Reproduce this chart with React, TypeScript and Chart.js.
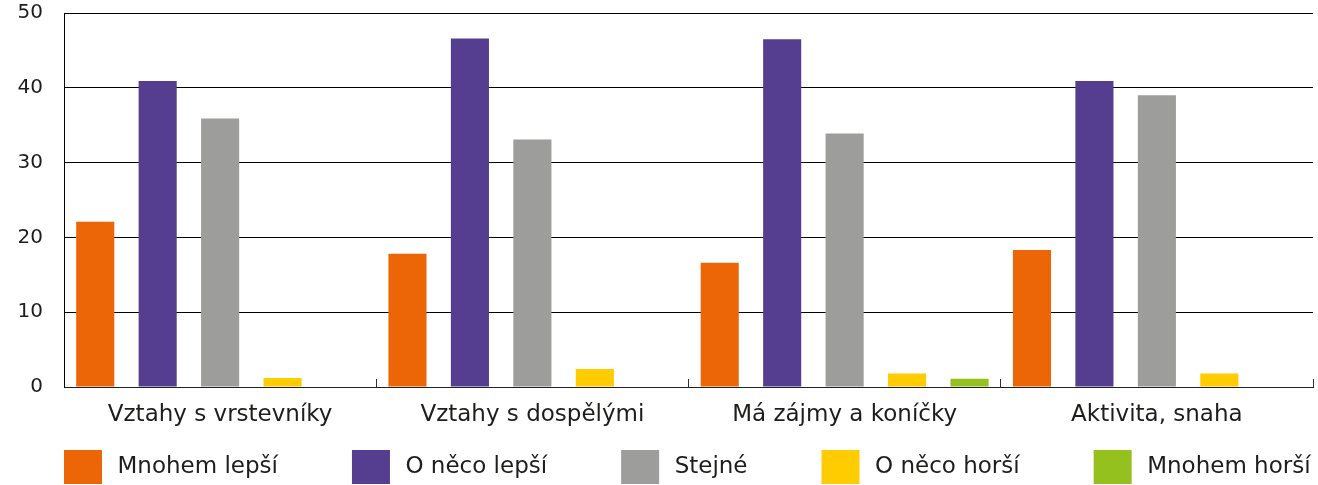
import { useEffect, useRef } from 'react';
import { Chart, registerables } from 'chart.js';

Chart.register(...registerables);

const categories = ['Vztahy s vrstevníky', 'Vztahy s dospělými', 'Má zájmy a koníčky', 'Aktivita, snaha'];
const seriesNames = ['Mnohem lepší', 'O něco lepší', 'Stejné', 'O něco horší', 'Mnohem horší'];
const mnohemLepsi = [22.1, 17.8, 16.6, 18.3];
const oNecoLepsi = [40.9, 46.6, 46.5, 40.9];
const stejne = [35.9, 33.1, 33.9, 39.0];
const oNecoHorsi = [1.2, 2.4, 1.8, 1.8];
const mnohemHorsi = [0, 0, 1.1, 0];
const seriesColors = ['#EC6608', '#553E8F', '#9D9D9C', '#FFCC00', '#95C11F'];
const yMin = 0;
const yMax = 50;
const yStep = 10;

const FONT = '"DejaVu Sans", sans-serif';
const TEXT = '#1d1d1b';

const LEGEND_HEIGHT = 98;
const LEGEND_SHIFT_UP = 11;
const LEGEND_GAP = 70;

// Keep the legend on one row with wide gaps and pull it close to the axis.
const legendLayoutPlugin = {
  id: 'legendLayout',
  beforeUpdate(chart: any) {
    const lg = chart.legend;
    if (!lg || lg.__patched) return;
    lg.__patched = true;
    const fit = lg.fit.bind(lg);
    lg.fit = function () {
      const mw = this.maxWidth;
      this.maxWidth = 100000;
      fit();
      this.maxWidth = mw;
      this.width = mw;
      this.height = LEGEND_HEIGHT;
    };
    const draw = lg._draw.bind(lg);
    lg._draw = function () {
      const top = this.top;
      const right = this.right;
      this.top = top - LEGEND_SHIFT_UP;
      this.right = 100000;
      draw();
      this.top = top;
      this.right = right;
    };
  },
};

export default function App() {
  const ref = useRef<HTMLCanvasElement>(null);

  useEffect(() => {
    const values = [mnohemLepsi, oNecoLepsi, stejne, oNecoHorsi, mnohemHorsi];
    const chart = new Chart(ref.current!, {
      type: 'bar',
      data: {
        labels: categories,
        datasets: values.map((v, i) => ({
          label: seriesNames[i],
          data: v,
          backgroundColor: seriesColors[i],
          borderWidth: 0,
          categoryPercentage: 1.0,
          barPercentage: 0.61,
        })),
      },
      plugins: [legendLayoutPlugin],
      options: {
        animation: false,
        responsive: false,
        devicePixelRatio: 1,
        layout: { padding: { top: 13, right: 5, left: -10, bottom: 0 } },
        plugins: {
          tooltip: { enabled: false },
          legend: {
            position: 'bottom',
            align: 'start',
            labels: {
              boxWidth: 46,
              boxHeight: 42,
              padding: LEGEND_GAP,
              color: TEXT,
              font: { family: FONT, size: 23 },
              generateLabels: (chart: any) =>
                chart.data.datasets.map((ds: any, i: number) => ({
                  text: ds.label,
                  fillStyle: ds.backgroundColor,
                  strokeStyle: '#ffffff',
                  lineWidth: 8,
                  fontColor: TEXT,
                  hidden: false,
                  datasetIndex: i,
                })),
            },
          },
        },
        scales: {
          x: {
            afterFit: (s: any) => { s.height = 0; },
            grid: {
              display: true,
              drawOnChartArea: false,
              drawTicks: true,
              tickLength: -8,
              color: '#333',
              lineWidth: 1,
            },
            border: { display: true, color: '#222', width: 1 },
            ticks: {
              color: TEXT,
              font: { family: FONT, size: 23 },
              mirror: true,
              padding: -42,
              maxRotation: 0,
              autoSkip: false,
            },
          },
          y: {
            min: yMin,
            max: yMax,
            afterFit: (s: any) => { s.width = 74; s.paddingTop = 0; s.paddingBottom = 0; },
            ticks: {
              stepSize: yStep,
              color: TEXT,
              font: { family: FONT, size: 20 },
              padding: 21,
            },
            grid: { color: '#000', lineWidth: 1, drawTicks: false },
            border: { display: true, color: '#000', width: 1 },
          },
        },
      },
    });
    return () => chart.destroy();
  }, []);

  return (
    <div style={{ position: 'absolute', left: 0, top: 0, width: 1318, height: 485, background: '#fff' }}>
      <canvas ref={ref} width={1318} height={485} style={{ display: 'block' }} />
    </div>
  );
}
